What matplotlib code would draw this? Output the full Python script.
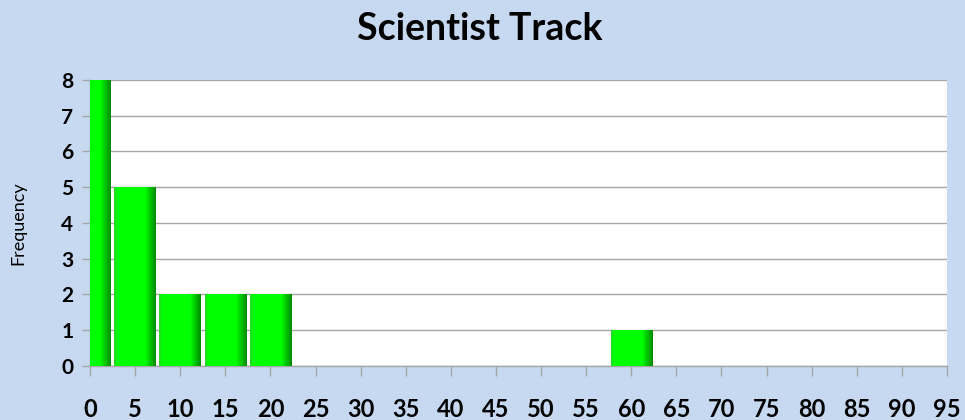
"""Scientist Track - frequency histogram recreation."""

import matplotlib

matplotlib.use("Agg")
import matplotlib.pyplot as plt
import numpy as np
from matplotlib.colors import LinearSegmentedColormap

# Bin centres (x tick values) and counts per bin
bin_centers = list(range(0, 100, 5))
counts = [8, 5, 2, 2, 2, 0, 0, 0, 0, 0, 0, 0, 1, 0, 0, 0, 0, 0, 0, 0]
y_ticks = list(range(0, 9))

TITLE = "Scientist Track"
Y_LABEL = "Frequency"

BG = "#c6d9f0"
BAR_WIDTH = 4.6

plt.rcParams["font.family"] = ["Lato", "DejaVu Sans"]

fig = plt.figure(figsize=(9.65, 4.2), dpi=100, facecolor=BG)
ax = fig.add_axes([0.0933, 0.1286, 0.888, 0.681])
ax.set_facecolor("white")

# Horizontal shading: bright green body, darker right edge
shade = LinearSegmentedColormap.from_list(
    "shade",
    [(0.0, "#2bd42b"), (0.06, "#00ff00"), (0.75, "#00ff00"), (1.0, "#008a00")],
)
gradient = np.linspace(0, 1, 64).reshape(1, -1)

for x, c in zip(bin_centers, counts):
    if c == 0:
        continue
    left = x - BAR_WIDTH / 2
    right = x + BAR_WIDTH / 2
    ax.imshow(
        gradient,
        cmap=shade,
        extent=(left, right, 0, c),
        aspect="auto",
        interpolation="bilinear",
        zorder=3,
    )

ax.set_xlim(0, 95)
ax.set_ylim(0, 8)

ax.set_xticks(bin_centers)
ax.set_yticks(y_ticks)
ax.grid(axis="y", color="#a6a6a6", linewidth=1.0, zorder=1)
ax.set_axisbelow(True)

for side in ("top", "right"):
    ax.spines[side].set_visible(False)
for side in ("left", "bottom"):
    ax.spines[side].set_color("#a6a6a6")
    ax.spines[side].set_linewidth(1.0)

ax.tick_params(axis="x", length=7, width=1, color="#a6a6a6", pad=16,
               labelsize=17)
ax.tick_params(axis="y", length=6, width=1, color="#a6a6a6", pad=6,
               labelsize=15)
for lbl in ax.get_xticklabels() + ax.get_yticklabels():
    lbl.set_fontweight("bold")

fig.text(18 / 965, 1 - 223 / 420, Y_LABEL, rotation=90, ha="center",
         va="center", fontsize=13)
fig.text(0.497, 0.932, TITLE, ha="center", va="center", fontsize=27,
         fontweight="bold")

fig.savefig("out.png", dpi=100, facecolor=BG)
plt.close(fig)
